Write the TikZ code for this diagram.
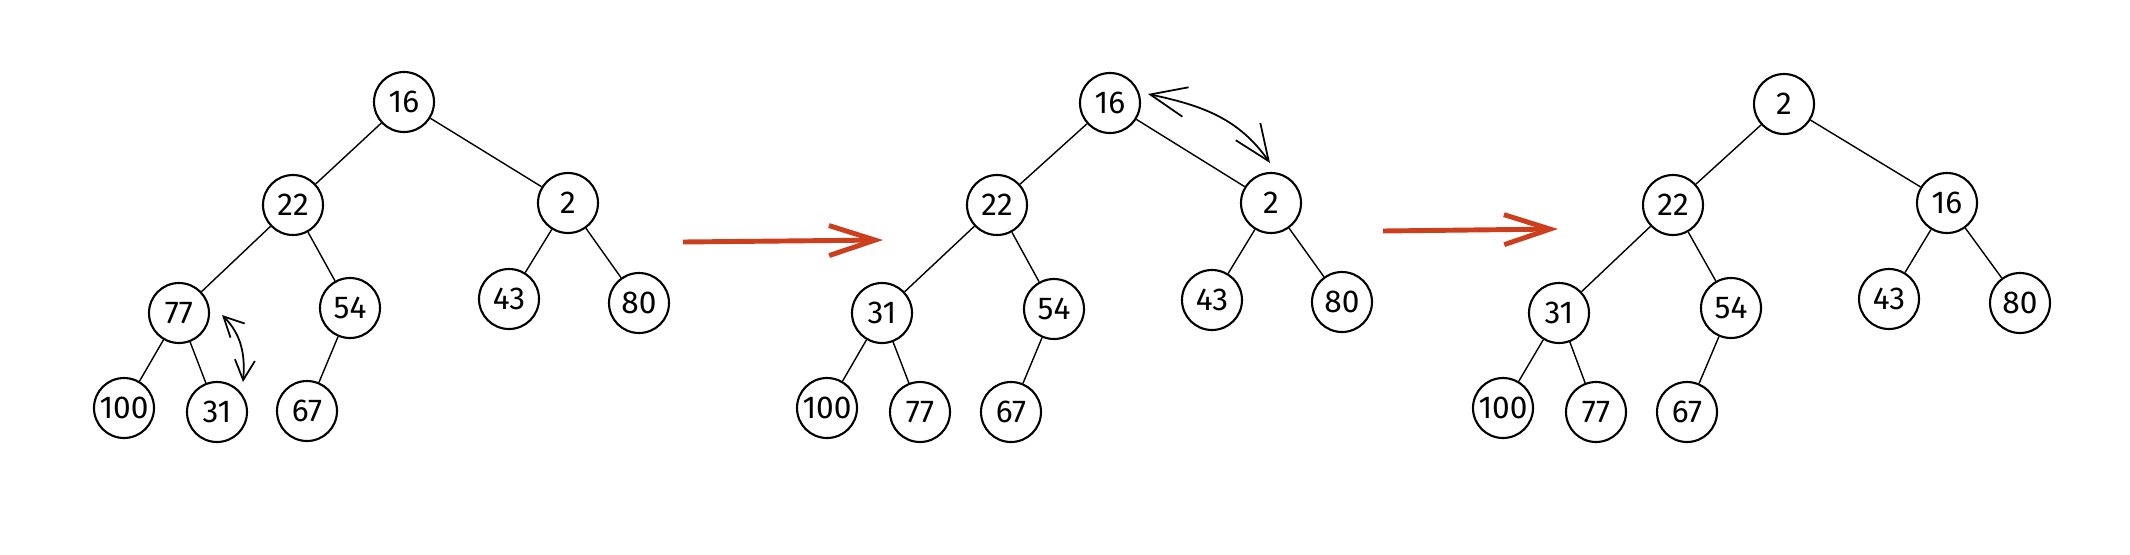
\documentclass[tikz,border=0pt]{standalone}
\usepackage{fontspec}
\setmainfont{Fira Sans}
\usetikzlibrary{arrows.meta}
\definecolor{stepred}{RGB}{205,62,28}

\begin{document}
\begin{tikzpicture}[
            key/.style={draw, circle, minimum size=0.6cm, inner sep=0pt, line width=0.6pt, font=\fontsize{9}{11}\selectfont},
            link/.style={line width=0.4pt},
            swaparrow/.style={line width=0.5pt, {Straight Barb[length=0.2cm, width=0.2cm]}-{Straight Barb[length=0.2cm, width=0.2cm]}},
            bigswap/.style={line width=0.5pt, {Straight Barb[length=0.36cm, width=0.3cm]}-{Straight Barb[length=0.36cm, width=0.3cm]}},
            stagearrow/.style={draw=stepred, line width=1.4pt, -{Straight Barb[length=0.46cm, width=0.3cm]}}
        ]

        \useasboundingbox (0, 0) rectangle (21.30, -5.54);

        % before the swap
        \node [key] (a16) at (4.04, -1.02) {16};
        \node [key] (a22) at (2.93, -2.05) {22};
        \node [key] (a2) at (5.68, -2.03) {2};
        \node [key] (a77) at (1.79, -3.13) {77};
        \node [key] (a54) at (3.50, -3.08) {54};
        \node [key] (a43) at (5.09, -2.99) {43};
        \node [key] (a80) at (6.39, -3.03) {80};
        \node [key] (a100) at (1.24, -4.08) {100};
        \node [key] (a31) at (2.17, -4.12) {31};
        \node [key] (a67) at (3.07, -4.11) {67};

        \draw [link] (a16) -- (a22) -- (a77) -- (a100)
            (a77) -- (a31)
            (a22) -- (a54) -- (a67)
            (a16) -- (a2) -- (a43)
            (a2) -- (a80);

        \coordinate (sa) at (2.22, -3.15);
        \coordinate (sb) at (2.43, -3.82);
        \draw [swaparrow] (sa) to[out=-45, in=85] (sb);

        % 31 moved up
        \node [key] (b16) at (11.10, -1.03) {16};
        \node [key] (b22) at (9.97, -2.05) {22};
        \node [key] (b2) at (12.71, -2.03) {2};
        \node [key] (b31) at (8.82, -3.13) {31};
        \node [key] (b54) at (10.54, -3.09) {54};
        \node [key] (b43) at (12.12, -3.00) {43};
        \node [key] (b80) at (13.42, -3.02) {80};
        \node [key] (b100) at (8.27, -4.08) {100};
        \node [key] (b77) at (9.20, -4.12) {77};
        \node [key] (b67) at (10.11, -4.12) {67};

        \draw [link] (b16) -- (b22) -- (b31) -- (b100)
            (b31) -- (b77)
            (b22) -- (b54) -- (b67)
            (b16) -- (b2) -- (b43)
            (b2) -- (b80);

        \coordinate (sc) at (11.48, -0.94);
        \coordinate (sd) at (12.70, -1.63);
        \draw [bigswap] (sc) to[out=-12, in=125] (sd);

        % 2 moved up
        \node [key] (c2) at (17.84, -1.04) {2};
        \node [key] (c22) at (16.73, -2.05) {22};
        \node [key] (c16) at (19.47, -2.03) {16};
        \node [key] (c31) at (15.59, -3.13) {31};
        \node [key] (c54) at (17.31, -3.08) {54};
        \node [key] (c43) at (18.89, -2.99) {43};
        \node [key] (c80) at (20.20, -3.03) {80};
        \node [key] (c100) at (15.03, -4.08) {100};
        \node [key] (c77) at (15.96, -4.12) {77};
        \node [key] (c67) at (16.87, -4.12) {67};

        \draw [link] (c2) -- (c22) -- (c31) -- (c100)
            (c31) -- (c77)
            (c22) -- (c54) -- (c67)
            (c2) -- (c16) -- (c43)
            (c16) -- (c80);

        % steps
        \coordinate (r1) at (6.83, -2.42);
        \coordinate (r2) at (8.83, -2.40);
        \coordinate (r3) at (13.83, -2.31);
        \coordinate (r4) at (15.58, -2.29);
        \draw [stagearrow] (r1) -- (r2);
        \draw [stagearrow] (r3) -- (r4);

        \end{tikzpicture}
\end{document}
